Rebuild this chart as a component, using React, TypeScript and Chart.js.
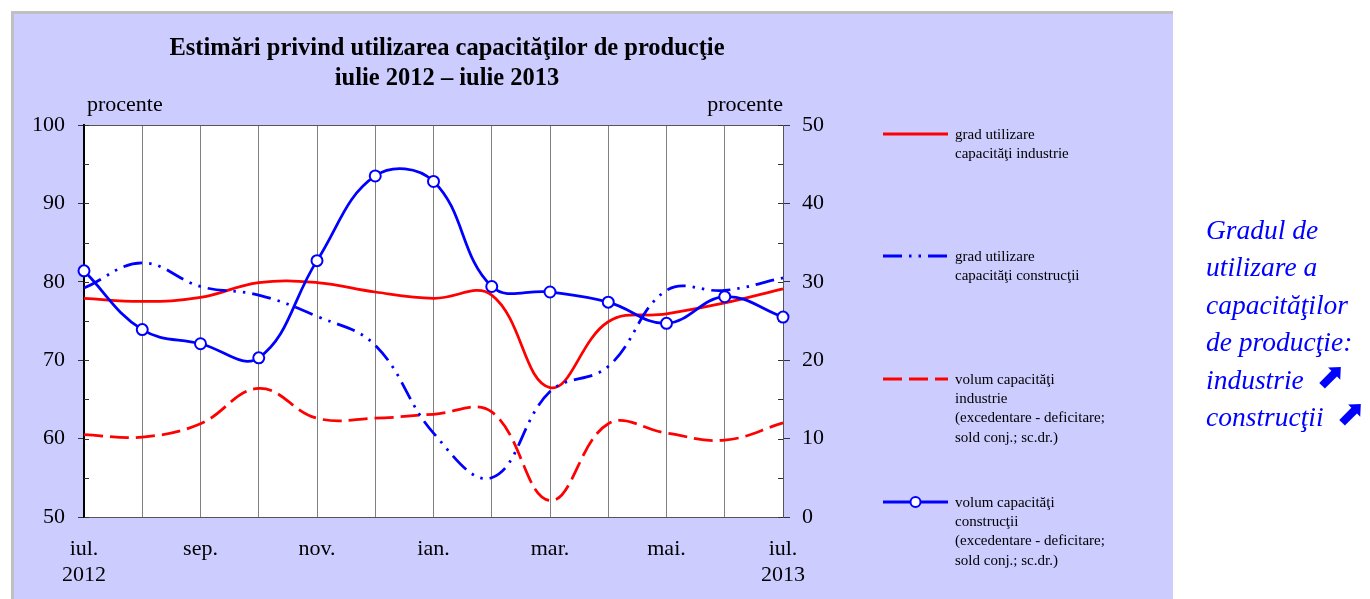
import React, { useEffect, useRef } from 'react';
import { Chart, registerables } from 'chart.js';

Chart.register(...registerables);

// ---- data ----
const months = ['iul.', 'aug.', 'sep.', 'oct.', 'nov.', 'dec.', 'ian.', 'feb.', 'mar.', 'apr.', 'mai.', 'iun.', 'iul.'];
const xTickLabels: (string | string[])[] = [
  ['iul.', '2012'], '', 'sep.', '', 'nov.', '', 'ian.', '', 'mar.', '', 'mai.', '', ['iul.', '2013'],
];
const gradIndustrie = [77.9, 77.5, 78.0, 79.9, 79.9, 78.7, 77.9, 78.3, 66.5, 74.9, 75.9, 77.3, 79.1];
const gradConstructii = [79.2, 82.4, 79.4, 78.3, 75.6, 71.9, 60.7, 55.0, 66.0, 69.2, 78.9, 78.9, 80.5];
const volumIndustrie = [10.5, 10.2, 11.9, 16.4, 12.6, 12.6, 13.1, 13.4, 2.1, 11.9, 10.7, 9.8, 12.0];
const volumConstructii = [31.4, 23.9, 22.1, 20.3, 32.7, 43.5, 42.8, 29.4, 28.7, 27.4, 24.7, 28.1, 25.5];

const leftMin = 50, leftMax = 100, rightMin = 0, rightMax = 50, tickStep = 10, minorStep = 5;

const titleLines = ['Estimări privind utilizarea capacităţilor de producţie', 'iulie 2012 – iulie 2013'];
const axisUnit = 'procente';
const seriesNames = [
  ['grad utilizare', 'capacităţi industrie'],
  ['grad utilizare', 'capacităţi construcţii'],
  ['volum capacităţi', 'industrie', '(excedentare - deficitare;', 'sold conj.; sc.dr.)'],
  ['volum capacităţi', 'construcţii', '(excedentare - deficitare;', 'sold conj.; sc.dr.)'],
];

const SERIF = '"Liberation Serif", "Times New Roman", serif';
const RED = '#ff0000';
const BLUE = '#0000ff';
const DASH_RED = [19, 7];
const DASH_DOT = [19, 7, 2.5, 7, 2.5, 7];

const legendRows = [134, 256, 379, 502];

const decorPlugin = {
  id: 'decor',
  beforeDraw(chart: any) {
    const { ctx, chartArea: ca } = chart;
    ctx.save();
    ctx.fillStyle = '#c0c0c0';
    ctx.fillRect(11, 11, 1162, 600);
    ctx.fillStyle = '#ccccff';
    ctx.fillRect(14, 14, 1159, 600);
    ctx.fillStyle = '#ffffff';
    ctx.fillRect(ca.left, ca.top, ca.right - ca.left, ca.bottom - ca.top);
    ctx.restore();
  },
  beforeDatasetsDraw(chart: any) {
    const { ctx, chartArea: ca, scales } = chart;
    ctx.save();
    ctx.strokeStyle = '#555555';
    ctx.lineWidth = 1;
    ctx.beginPath();
    ctx.moveTo(ca.left, ca.top + 0.5);
    ctx.lineTo(ca.right, ca.top + 0.5);
    ctx.stroke();
    ctx.strokeStyle = '#333333';
    for (let v = leftMin; v <= leftMax; v += minorStep) {
      const y = Math.round(scales.y.getPixelForValue(v)) + 0.5;
      ctx.beginPath();
      ctx.moveTo(ca.left, y);
      ctx.lineTo(ca.left + 5, y);
      ctx.stroke();
    }
    for (let v = rightMin; v <= rightMax; v += minorStep) {
      const y = Math.round(scales.y1.getPixelForValue(v)) + 0.5;
      ctx.beginPath();
      ctx.moveTo(ca.right - 5, y);
      ctx.lineTo(ca.right, y);
      ctx.stroke();
    }
    ctx.restore();
  },
  afterDraw(chart: any) {
    const { ctx, chartArea: ca } = chart;
    ctx.save();
    ctx.fillStyle = '#000000';
    ctx.textAlign = 'center';
    ctx.textBaseline = 'alphabetic';
    ctx.font = `bold 24.5px ${SERIF}`;
    ctx.fillText(titleLines[0], 447, 55);
    ctx.fillText(titleLines[1], 447, 85);
    ctx.font = `22px ${SERIF}`;
    ctx.textAlign = 'left';
    ctx.fillText(axisUnit, 87, 111);
    ctx.textAlign = 'right';
    ctx.fillText(axisUnit, ca.right, 111);

    const x0 = 883, x1 = 948, tx = 955;
    chart.data.datasets.forEach((ds: any, i: number) => {
      const y = legendRows[i];
      ctx.save();
      ctx.strokeStyle = ds.borderColor;
      ctx.lineWidth = 3;
      ctx.setLineDash(ds.borderDash || []);
      ctx.beginPath();
      ctx.moveTo(x0, y);
      ctx.lineTo(x1, y);
      ctx.stroke();
      ctx.setLineDash([]);
      if (ds.pointRadius > 0) {
        ctx.beginPath();
        ctx.arc((x0 + x1) / 2, y, 5, 0, Math.PI * 2);
        ctx.fillStyle = '#ffffff';
        ctx.fill();
        ctx.lineWidth = 2;
        ctx.stroke();
      }
      ctx.restore();
      ctx.fillStyle = '#000000';
      ctx.textAlign = 'left';
      ctx.textBaseline = 'middle';
      ctx.font = `15px ${SERIF}`;
      seriesNames[i].forEach((t, k) => ctx.fillText(t, tx, y + 1 + k * 19.2));
    });
    ctx.restore();
  },
};

export default function App() {
  const ref = useRef<HTMLCanvasElement | null>(null);
  useEffect(() => {
    if (!ref.current) return;
    const chart = new Chart(ref.current, {
      type: 'line',
      data: {
        labels: months,
        datasets: [
          {
            label: seriesNames[0].join(' '),
            data: gradIndustrie,
            yAxisID: 'y',
            borderColor: RED,
            borderWidth: 2.75,
            pointRadius: 0,
            tension: 0.4,
            order: 3,
          },
          {
            label: seriesNames[1].join(' '),
            data: gradConstructii,
            yAxisID: 'y',
            borderColor: BLUE,
            borderWidth: 2.75,
            borderDash: DASH_DOT,
            pointRadius: 0,
            tension: 0.4,
            order: 2,
          },
          {
            label: seriesNames[2].join(' '),
            data: volumIndustrie,
            yAxisID: 'y1',
            borderColor: RED,
            borderWidth: 2.75,
            borderDash: DASH_RED,
            pointRadius: 0,
            tension: 0.4,
            order: 4,
          },
          {
            label: seriesNames[3].join(' '),
            data: volumConstructii,
            yAxisID: 'y1',
            borderColor: BLUE,
            borderWidth: 2.75,
            pointRadius: 5.5,
            pointBorderWidth: 2,
            pointBackgroundColor: '#ffffff',
            pointBorderColor: BLUE,
            tension: 0.4,
            order: 1,
          },
        ],
      },
      options: {
        responsive: false,
        animation: false,
        devicePixelRatio: 1,
        layout: { padding: { left: 14, top: 125, right: 527, bottom: 12 } },
        plugins: { legend: { display: false }, title: { display: false }, tooltip: { enabled: false } },
        scales: {
          x: {
            type: 'category',
            offset: false,
            grid: { display: true, drawOnChartArea: true, drawTicks: false, color: '#808080', lineWidth: 1 },
            border: { display: true, color: '#555555', width: 1 },
            ticks: {
              autoSkip: false,
              maxRotation: 0,
              padding: 19,
              color: '#000000',
              font: { family: SERIF, size: 22, lineHeight: 1.2 },
              callback: (_v: any, i: number) => xTickLabels[i],
            },
            afterFit: (s: any) => { s.height = 70; },
          },
          y: {
            position: 'left',
            min: leftMin,
            max: leftMax,
            grid: { drawOnChartArea: false, drawTicks: true, tickLength: 6, color: '#333333' },
            border: { display: true, color: '#000000', width: 2 },
            ticks: { stepSize: tickStep, padding: 13, color: '#000000', font: { family: SERIF, size: 22 } },
            afterFit: (s: any) => { s.width = 70; },
          },
          y1: {
            position: 'right',
            min: rightMin,
            max: rightMax,
            grid: { drawOnChartArea: false, drawTicks: true, tickLength: 7, color: '#333333' },
            border: { display: true, color: '#555555', width: 1 },
            ticks: { stepSize: tickStep, padding: 12, color: '#000000', font: { family: SERIF, size: 22 } },
            afterFit: (s: any) => { s.width = 60; },
          },
        },
      },
      plugins: [decorPlugin],
    });
    return () => chart.destroy();
  }, []);

  const arrow: React.CSSProperties = {
    fontFamily: '"DejaVu Sans", sans-serif',
    fontStyle: 'normal',
    fontWeight: 'bold',
    fontSize: 32,
    lineHeight: '10px',
    display: 'inline-block',
    marginLeft: 6,
    transform: 'rotate(-45deg) scaleX(1.1)',
    verticalAlign: '2px',
  };

  return (
    <div style={{ position: 'absolute', left: 0, top: 0, width: 1370, height: 599, background: '#ffffff', overflow: 'hidden' }}>
      <canvas ref={ref} width={1370} height={599} style={{ position: 'absolute', left: 0, top: 0, width: 1370, height: 599, display: 'block' }} />
      <div
        style={{
          position: 'absolute',
          left: 1206,
          top: 211,
          fontFamily: SERIF,
          fontStyle: 'italic',
          fontSize: 27.5,
          lineHeight: '37.4px',
          color: BLUE,
          whiteSpace: 'nowrap',
        }}
      >
        <div>Gradul de</div>
        <div>utilizare a</div>
        <div>capacităţilor</div>
        <div>de producţie:</div>
        <div style={{ height: 37.4 }}>industrie <span style={arrow}>➡</span></div>
        <div style={{ height: 37.4 }}>construcţii <span style={arrow}>➡</span></div>
      </div>
    </div>
  );
}
